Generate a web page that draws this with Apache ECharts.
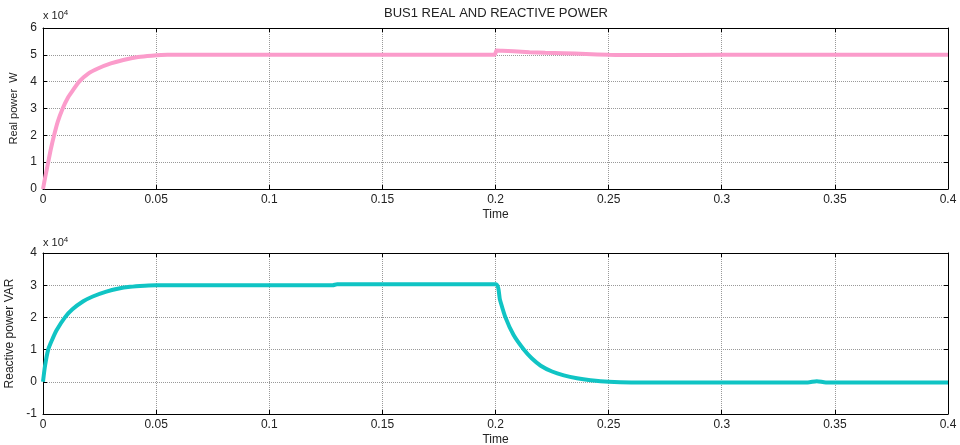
<!DOCTYPE html>
<html>
<head>
<meta charset="utf-8">
<script src="https://cdn.jsdelivr.net/npm/echarts@6/dist/echarts.min.js"></script>
<style>
  html, body { margin: 0; padding: 0; background: #fff; }
  #chart { width: 960px; height: 445px; }
</style>
</head>
<body>
<div id="chart"></div>
<script>
// time (s) and real power (W)
const timeP = [0, 0.001, 0.0023, 0.0035, 0.0049, 0.0065, 0.0087, 0.011, 0.013, 0.016, 0.02, 0.0245, 0.03, 0.0355, 0.042, 0.048, 0.055,
  0.1, 0.15, 0.1995, 0.2005, 0.203, 0.208, 0.215, 0.222, 0.23, 0.24, 0.25, 0.255, 0.3, 0.35, 0.4];
const realPower = [0, 4500, 10000, 15000, 20000, 25000, 30000, 34000, 36500, 40000, 43000, 45000, 46800, 48100, 49200, 49700, 50000,
  50000, 50000, 50000, 51600, 51500, 51300, 51000, 50800, 50600, 50300, 50000, 49900, 50000, 50000, 50000];

// time (s) and reactive power (VAR), lower plot
const timeQ = [0, 0.0009, 0.0023, 0.004, 0.006, 0.0097, 0.013, 0.0178, 0.022, 0.028, 0.033, 0.0385, 0.045, 0.05,
  0.128, 0.13, 0.2, 0.202, 0.2044, 0.208, 0.2125, 0.216, 0.22, 0.225, 0.2302, 0.236, 0.242, 0.25, 0.26,
  0.338, 0.342, 0.346, 0.4];
const reactivePower = [0, 5000, 10000, 13000, 16000, 20000, 22500, 25000, 26500, 28000, 28900, 29500, 29850, 30000,
  30000, 30300, 30300, 25400, 20000, 14500, 10000, 7300, 5000, 3200, 2000, 1100, 500, 0, -200,
  -200, 200, -200, -200];

const pairs = (xs, ys) => xs.map((x, i) => [x, ys[i]]);

const chart = echarts.init(document.getElementById('chart'));
const font = 'Liberation Sans, Arial, sans-serif';
const textColor = '#222';

function xAxes(grid) {
  return [
    {
      gridIndex: grid, type: 'value', min: 0, max: 0.4, interval: 0.05,
      name: 'Time', nameLocation: 'middle', nameGap: 20,
      nameTextStyle: { color: textColor, fontSize: 12, fontFamily: font },
      axisLine: { onZero: false, lineStyle: { color: '#000', width: 1 } },
      axisTick: { inside: true, length: 4, lineStyle: { color: '#000' } },
      axisLabel: { color: textColor, fontSize: 12, fontFamily: font, margin: 5 },
      splitLine: { show: true, lineStyle: { color: '#999', type: 'dotted', width: 1 } }
    },
    {
      gridIndex: grid, type: 'value', min: 0, max: 0.4, interval: 0.05, position: 'top',
      axisLine: { onZero: false, lineStyle: { color: '#000', width: 1 } },
      axisTick: { inside: true, length: 4, lineStyle: { color: '#000' } },
      axisLabel: { show: false },
      splitLine: { show: false }
    }
  ];
}

function yAxes(grid, min, max, name, gap, nameSize) {
  return [
    {
      gridIndex: grid, type: 'value', min: min, max: max, interval: 10000,
      name: name, nameLocation: 'middle', nameGap: gap, nameRotate: 90,
      nameTextStyle: { color: textColor, fontSize: nameSize, fontFamily: font },
      axisLine: { show: true, onZero: false, lineStyle: { color: '#000', width: 1 } },
      axisTick: { show: true, inside: true, length: 4, lineStyle: { color: '#000' } },
      axisLabel: { color: textColor, fontSize: 12, fontFamily: font, margin: 6,
        formatter: v => String(Math.round(v / 10000)) },
      splitLine: { show: true, lineStyle: { color: '#999', type: 'dotted', width: 1 } }
    },
    {
      gridIndex: grid, type: 'value', min: min, max: max, interval: 10000, position: 'right',
      axisLine: { show: true, onZero: false, lineStyle: { color: '#000', width: 1 } },
      axisTick: { show: true, inside: true, length: 4, lineStyle: { color: '#000' } },
      axisLabel: { show: false },
      splitLine: { show: false }
    }
  ];
}

function exponentLabel(x, y) {
  return {
    type: 'text', left: x, top: y,
    style: {
      text: 'x 10{sup|4}',
      fill: textColor, font: '11px ' + font,
      rich: { sup: { fontSize: 8, fontFamily: font, verticalAlign: 'top', padding: [0, 0, 6, 0], fill: textColor } }
    }
  };
}

const option = {
  animation: false,
  backgroundColor: '#fff',
  grid: [
    { left: 43, top: 28, width: 905, height: 161, outerBoundsMode: 'none' },
    { left: 43, top: 253, width: 905, height: 161, outerBoundsMode: 'none' }
  ],
  xAxis: [...xAxes(0), ...xAxes(1)],
  yAxis: [
    ...yAxes(0, 0, 60000, 'Real power  W', 23, 11),
    ...yAxes(1, -10000, 40000, 'Reactive power VAR', 27, 12)
  ],
  graphic: [
    {
      type: 'text', x: 496, y: 13,
      style: { text: 'BUS1 REAL AND REACTIVE POWER', fill: textColor, font: '13px ' + font,
        textAlign: 'center', textVerticalAlign: 'middle' }
    },
    exponentLabel(43, 9),
    exponentLabel(43, 236)
  ],
  series: [
    {
      type: 'line', xAxisIndex: 0, yAxisIndex: 0,
      data: pairs(timeP, realPower),
      showSymbol: false, smooth: 0.25,
      lineStyle: { color: '#fb9ccb', width: 4 }
    },
    {
      type: 'line', xAxisIndex: 2, yAxisIndex: 2,
      data: pairs(timeQ, reactivePower),
      showSymbol: false, smooth: 0.25,
      lineStyle: { color: '#10c4c4', width: 4 }
    }
  ]
};

chart.setOption(option);
</script>
</body>
</html>
